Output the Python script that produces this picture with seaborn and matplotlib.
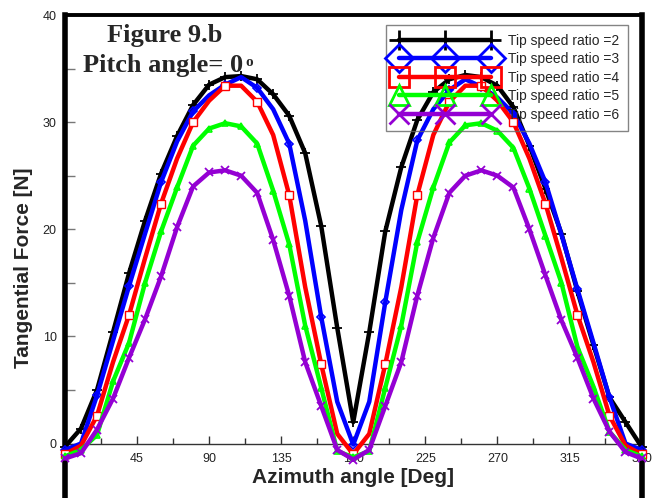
import numpy as np
import pandas as pd
import matplotlib
matplotlib.use("Agg")
import matplotlib.pyplot as plt
from matplotlib.lines import Line2D
import seaborn as sns

sns.set_style("white")
plt.rcParams['font.family'] = ['Liberation Sans', 'DejaVu Sans']

azimuth = list(range(0, 361, 10))

tsr2 = [-0.3, 1.4, 5.0, 10.4, 15.9, 20.8, 25.2, 28.7, 31.6, 33.5, 34.2, 34.3, 34.0, 32.6, 30.6, 27.1, 20.3, 10.8,
        2.0, 10.4, 19.8, 25.8, 30.2, 32.8, 34.0, 34.4, 34.2, 33.4, 31.4, 27.8, 23.8, 19.6, 14.2, 9.2, 4.3, 2.0, -0.3]
tsr3 = [-0.6, 0.0, 4.5, 9.6, 14.7, 19.6, 24.4, 28.2, 31.0, 32.5, 33.5, 34.2, 33.2, 31.2, 28.0, 20.8, 11.8, 3.9,
        -0.1, 3.9, 13.2, 21.8, 28.3, 31.2, 33.0, 34.0, 33.3, 32.3, 30.8, 28.0, 24.4, 19.5, 14.4, 9.4, 4.3, 0.0, -0.6]
tsr4 = [-1.0, -0.2, 2.6, 7.6, 12.0, 17.3, 22.4, 26.6, 30.0, 32.0, 33.4, 33.4, 31.9, 28.8, 23.2, 14.6, 7.4, 0.9,
        -1.0, 0.9, 7.4, 14.6, 23.2, 28.8, 31.9, 33.4, 33.4, 32.0, 30.0, 26.6, 22.4, 17.3, 12.0, 7.6, 2.6, -0.2, -1.0]
tsr5 = [-1.2, -0.6, 0.8, 5.8, 9.4, 15.0, 19.8, 23.9, 27.8, 29.4, 29.9, 29.6, 28.0, 23.6, 18.6, 11.0, 5.2, -0.7,
        -1.3, -0.7, 5.2, 11.0, 18.8, 23.9, 28.1, 29.7, 29.9, 29.2, 27.6, 23.8, 19.4, 15.0, 9.0, 5.3, 1.1, -0.6, -1.2]
tsr6 = [-1.4, -0.9, 1.3, 4.2, 8.0, 11.6, 15.6, 20.2, 24.0, 25.3, 25.5, 25.0, 23.4, 19.0, 13.8, 7.6, 3.5, -0.6,
        -1.5, -0.6, 3.5, 7.6, 13.8, 19.2, 23.4, 25.0, 25.5, 25.0, 23.9, 20.0, 15.7, 11.5, 8.0, 4.2, 1.1, -0.8, -1.4]

labels = ["Tip speed ratio =2", "Tip speed ratio =3", "Tip speed ratio =4",
          "Tip speed ratio =5", "Tip speed ratio =6"]
x_ticks = [0, 45, 90, 135, 180, 225, 270, 315, 360]
x_ticklabels = ["", "45", "90", "135", "180", "225", "270", "315", "360"]
y_ticks = [0, 10, 20, 30, 40]

W, H = 659, 498
fig = plt.figure(figsize=(W / 100, H / 100), dpi=100)

x0, x1 = 65, 641.5
y40, y0 = 15, 443.5
ppu = (y0 - y40) / 40.0
ybot = -8.5
bottom_frac = (H - y0 + ybot * ppu) / H
height_frac = (40 - ybot) * ppu / H
ax = fig.add_axes([x0 / W, bottom_frac, (x1 - x0) / W, height_frac])

colors = ["black", "#0000ff", "#ff0000", "#00ff00", "#9400d3"]
styles = [
    dict(marker="+", markersize=7, markeredgewidth=1.3, markerfacecolor="none", markevery=1),
    dict(marker="D", markersize=4.5, markeredgewidth=1.2, markerfacecolor="none", markevery=2),
    dict(marker="s", markersize=6, markeredgewidth=1.0, markerfacecolor="white", markevery=2),
    dict(marker="^", markersize=5, markeredgewidth=1.2, markerfacecolor="none", markevery=1),
    dict(marker="x", markersize=6, markeredgewidth=1.3, markerfacecolor="none", markevery=1),
]
series = [tsr2, tsr3, tsr4, tsr5, tsr6]

for vals, c, st in zip(series, colors, styles):
    df = pd.DataFrame({"az": azimuth, "F": vals})
    sns.lineplot(data=df, x="az", y="F", ax=ax, color=c, linewidth=3.2,
                 markeredgecolor=c, estimator=None, sort=False, legend=False,
                 clip_on=False, zorder=3, **st)

ax.set_xlim(0, 360)
ax.set_ylim(ybot, 40)
ax.set_xlabel("")
ax.set_ylabel("")

ax.set_xticks(x_ticks)
ax.set_xticklabels(x_ticklabels)
ax.set_xticks(np.arange(22.5, 360, 45), minor=True)
ax.set_yticks(y_ticks)
ax.set_yticklabels([str(v) for v in y_ticks])
ax.set_yticks([5, 15, 25, 35], minor=True)

ax.spines['bottom'].set_position(('data', 0))
ax.spines['bottom'].set_linewidth(1.0)
ax.spines['bottom'].set_color('#333333')
ax.spines['left'].set_linewidth(4.0)
ax.spines['right'].set_linewidth(4.0)
ax.spines['top'].set_linewidth(2.8)
for s in ['left', 'right', 'top']:
    ax.spines[s].set_color('black')
for s in ax.spines.values():
    s.set_zorder(1)
ax.set_axisbelow(True)

ax.tick_params(axis='x', which='major', direction='in', length=6, width=1, color='#333333',
               labelsize=9, labelcolor='#222222', pad=7, top=False, bottom=True)
ax.tick_params(axis='x', which='minor', direction='in', length=4, width=1, color='#333333',
               top=False, bottom=True)
ax.tick_params(axis='y', which='both', direction='in', length=7, width=1, color='#777777',
               labelsize=9, labelcolor='#222222', pad=6, right=False, left=True)

handles = [Line2D([], [], color=c, linewidth=3.2, marker=st["marker"], markersize=14,
                  markeredgewidth=2.0, markerfacecolor="none", markeredgecolor=c)
           for c, st in zip(colors, styles)]
leg = ax.legend(handles, labels, loc="upper left",
                bbox_to_anchor=(386 / W, 1 - 25 / H), bbox_transform=fig.transFigure,
                borderaxespad=0, numpoints=3, handlelength=7.25, handletextpad=0.9,
                borderpad=0.62, labelspacing=0.33, fancybox=False, frameon=True,
                prop={"family": "Liberation Sans", "size": 10})
leg.get_frame().set_facecolor("none")
leg.get_frame().set_edgecolor("#666666")
leg.get_frame().set_linewidth(1.0)

fig.text(165 / W, 1 - 42 / H, "Figure 9.b", ha="center", va="baseline",
         family="Liberation Serif", weight="bold", fontsize=19)
fig.text(243 / W, 1 - 72 / H, "Pitch angle= 0", ha="right", va="baseline",
         family="Liberation Serif", weight="bold", fontsize=19)
fig.text(245 / W, 1 - 66 / H, "o", ha="left", va="baseline",
         family="Liberation Serif", weight="bold", fontsize=11)

fig.text(24 / W, 1 - 268 / H, "Tangential Force [N]", rotation=90, ha="center", va="center",
         family="Liberation Sans", weight="bold", fontsize=15)
fig.text(353 / W, 1 - 477 / H, "Azimuth angle [Deg]", ha="center", va="center",
         family="Liberation Sans", weight="bold", fontsize=15)

fig.savefig("out.png", dpi=100)
